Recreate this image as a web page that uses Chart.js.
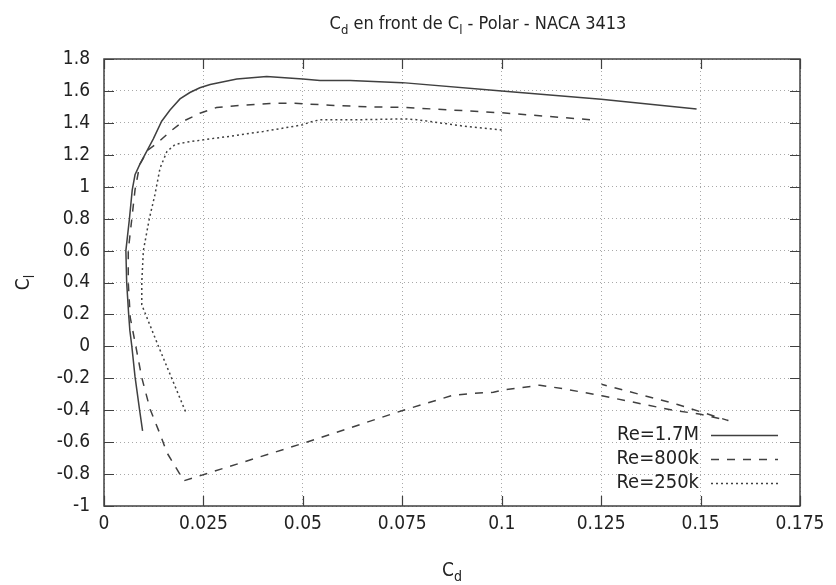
<!DOCTYPE html>
<html>
<head>
<meta charset="utf-8">
<script src="https://cdn.jsdelivr.net/npm/chart.js@4.4.0/dist/chart.umd.min.js"></script>
<style>
  html, body { margin: 0; padding: 0; background: #fff; }
  #wrap { width: 836px; height: 585px; }
</style>
</head>
<body>
<div id="wrap"><canvas id="polar"></canvas></div>
<script>
// Re = 1.7M
const cd17M = [0.0097, 0.0089, 0.0078, 0.0070, 0.0065, 0.0062, 0.0057, 0.0055, 0.0064, 0.0071,
               0.0078, 0.0090, 0.0107, 0.0124, 0.0145, 0.0166, 0.0191, 0.0216, 0.0241, 0.0267,
               0.0334, 0.0409, 0.0500, 0.0543, 0.0619, 0.0750, 0.1000, 0.1250, 0.1490];
const cl17M = [-0.53, -0.39, -0.19, 0.00, 0.10, 0.20, 0.40, 0.60, 0.80, 0.98,
               1.075, 1.14, 1.22, 1.30, 1.41, 1.48, 1.55, 1.59, 1.62, 1.64,
               1.675, 1.69, 1.675, 1.665, 1.665, 1.652, 1.60, 1.548, 1.487];

// Re = 800k
const cd800k = [0.1222, 0.1000, 0.0900, 0.0750, 0.0669, 0.0568, 0.0480, 0.0417, 0.0325, 0.0283,
                0.0241, 0.0199, 0.0166, 0.0137, 0.0111, 0.0090, 0.0078, 0.0070, 0.0061, 0.0061,
                0.0066, 0.0080, 0.0095, 0.0116, 0.0141, 0.0158, 0.0178, 0.0201, 0.0497, 0.0753,
                0.0878, 0.0929, 0.0979, 0.1004, 0.1096, 0.1163, 0.1255, 0.1430, 0.1500, 0.1570,
                0.1440, 0.1251];
const cl800k = [1.42, 1.463, 1.477, 1.497, 1.50, 1.51, 1.523, 1.522, 1.506, 1.496,
                1.46, 1.41, 1.345, 1.28, 1.23, 1.14, 0.98, 0.80, 0.60, 0.40,
                0.18, 0.00, -0.196, -0.394, -0.55, -0.665, -0.748, -0.842, -0.61, -0.40,
                -0.306, -0.294, -0.288, -0.273, -0.243, -0.269, -0.311, -0.40, -0.425, -0.465,
                -0.3625, -0.2375];

// Re = 250k
const cd250k = [0.1000, 0.0900, 0.0786, 0.0753, 0.0652, 0.0543, 0.0518, 0.0500, 0.0400, 0.0317,
                0.0250, 0.0208, 0.0179, 0.0158, 0.0141, 0.0128, 0.0114, 0.0099, 0.0095, 0.0095,
                0.0137, 0.0206];
const cl250k = [1.356, 1.381, 1.420, 1.425, 1.420, 1.419, 1.405, 1.388, 1.346, 1.316,
                1.294, 1.279, 1.265, 1.220, 1.117, 0.950, 0.800, 0.600, 0.400, 0.260,
                0.000, -0.415];

const seriesNames = ['Re=1.7M', 'Re=800k', 'Re=250k'];
const xTicks = [0, 0.025, 0.05, 0.075, 0.1, 0.125, 0.15, 0.175];
const yTicks = [-1, -0.8, -0.6, -0.4, -0.2, 0, 0.2, 0.4, 0.6, 0.8, 1, 1.2, 1.4, 1.6, 1.8];

const FONT = '"DejaVu Sans Condensed", "DejaVu Sans", sans-serif';
const INK = '#404040';

const toPts = (xs, ys) => xs.map((x, i) => ({ x: x, y: ys[i] }));

// text with subscripts: parts = [[text, isSub], ...], centred on x
function drawRich(ctx, parts, x, y, size) {
  const subSize = Math.round(size * 0.72);
  let w = 0;
  parts.forEach(p => {
    ctx.font = (p[1] ? subSize : size) + 'px ' + FONT;
    w += ctx.measureText(p[0]).width;
  });
  let cx = x - w / 2;
  ctx.textAlign = 'left';
  ctx.textBaseline = 'alphabetic';
  parts.forEach(p => {
    ctx.font = (p[1] ? subSize : size) + 'px ' + FONT;
    ctx.fillText(p[0], cx, y + (p[1] ? size * 0.28 : 0));
    cx += ctx.measureText(p[0]).width;
  });
}

const gnuplotLook = {
  id: 'gnuplotLook',
  afterDraw(chart) {
    const ctx = chart.ctx;
    const a = chart.chartArea;
    const xs = chart.scales.x, ys = chart.scales.y;
    ctx.save();
    ctx.strokeStyle = INK;
    ctx.lineWidth = 1.5;
    ctx.setLineDash([]);
    // frame
    ctx.strokeRect(a.left, a.top, a.right - a.left, a.bottom - a.top);
    // inward ticks on all four sides
    ctx.lineWidth = 1.2;
    ctx.beginPath();
    xTicks.forEach(v => {
      const px = Math.round(xs.getPixelForValue(v)) + 0.5;
      ctx.moveTo(px, a.bottom); ctx.lineTo(px, a.bottom - 10);
      ctx.moveTo(px, a.top); ctx.lineTo(px, a.top + 10);
    });
    yTicks.forEach(v => {
      const py = Math.round(ys.getPixelForValue(v)) + 0.5;
      ctx.moveTo(a.left, py); ctx.lineTo(a.left + 10, py);
      ctx.moveTo(a.right, py); ctx.lineTo(a.right - 10, py);
    });
    ctx.stroke();

    // titles
    ctx.fillStyle = '#222';
    drawRich(ctx, [['C', false], ['d', true], [' en front de C', false], ['l', true], [' - Polar - NACA 3413', false]],
             478, 29, 18);
    drawRich(ctx, [['C', false], ['d', true]], (a.left + a.right) / 2, 576, 19);
    ctx.save();
    ctx.translate(29, (a.top + a.bottom) / 2);
    ctx.rotate(-Math.PI / 2);
    drawRich(ctx, [['C', false], ['l', true]], 0, 0, 19);
    ctx.restore();

    // key, inside bottom right: text then line sample
    ctx.font = '20px ' + FONT;
    ctx.textAlign = 'right';
    ctx.textBaseline = 'middle';
    chart.data.datasets.forEach((ds, i) => {
      const y = a.bottom - 71 + i * 24;
      ctx.fillStyle = '#222';
      ctx.fillText(ds.label, a.right - 101, y);
      ctx.strokeStyle = ds.borderColor;
      ctx.lineWidth = ds.borderWidth;
      ctx.setLineDash(ds.borderDash || []);
      ctx.beginPath();
      ctx.moveTo(a.right - 89, y + 0.5);
      ctx.lineTo(a.right - 22, y + 0.5);
      ctx.stroke();
    });
    ctx.restore();
  }
};

const baseSet = {
  showLine: true,
  fill: false,
  pointRadius: 0,
  pointHoverRadius: 0,
  borderColor: INK,
  borderWidth: 1.5,
  tension: 0
};

new Chart(document.getElementById('polar'), {
  type: 'scatter',
  data: {
    datasets: [
      Object.assign({}, baseSet, { label: seriesNames[0], data: toPts(cd17M, cl17M), borderDash: [] }),
      Object.assign({}, baseSet, { label: seriesNames[1], data: toPts(cd800k, cl800k), borderDash: [8, 8] }),
      Object.assign({}, baseSet, { label: seriesNames[2], data: toPts(cd250k, cl250k), borderDash: [2, 3] })
    ]
  },
  options: {
    responsive: true,
    maintainAspectRatio: false,
    animation: false,
    layout: { padding: { top: 59, right: 36, left: 0, bottom: 0 } },
    plugins: {
      legend: { display: false },
      title: { display: false },
      tooltip: { enabled: false }
    },
    scales: {
      x: {
        type: 'linear',
        min: 0,
        max: 0.175,
        afterBuildTicks: s => { s.ticks = xTicks.map(v => ({ value: v })); },
        afterFit: s => { s.height = 79; },
        grid: { color: '#a8a8a8', lineWidth: 1, drawTicks: false },
        border: { display: false, dash: [1, 3] },
        ticks: {
          padding: 7,
          color: '#222',
          font: { family: FONT, size: 19 },
          maxRotation: 0,
          callback: v => String(+v.toFixed(3))
        }
      },
      y: {
        type: 'linear',
        min: -1,
        max: 1.8,
        afterBuildTicks: s => { s.ticks = yTicks.map(v => ({ value: v })); },
        afterFit: s => { s.width = 104; },
        grid: { color: '#a8a8a8', lineWidth: 1, drawTicks: false },
        border: { display: false, dash: [1, 3] },
        ticks: {
          padding: 14,
          color: '#222',
          font: { family: FONT, size: 19 },
          callback: v => String(+v.toFixed(1))
        }
      }
    }
  },
  plugins: [gnuplotLook]
});
</script>
</body>
</html>
